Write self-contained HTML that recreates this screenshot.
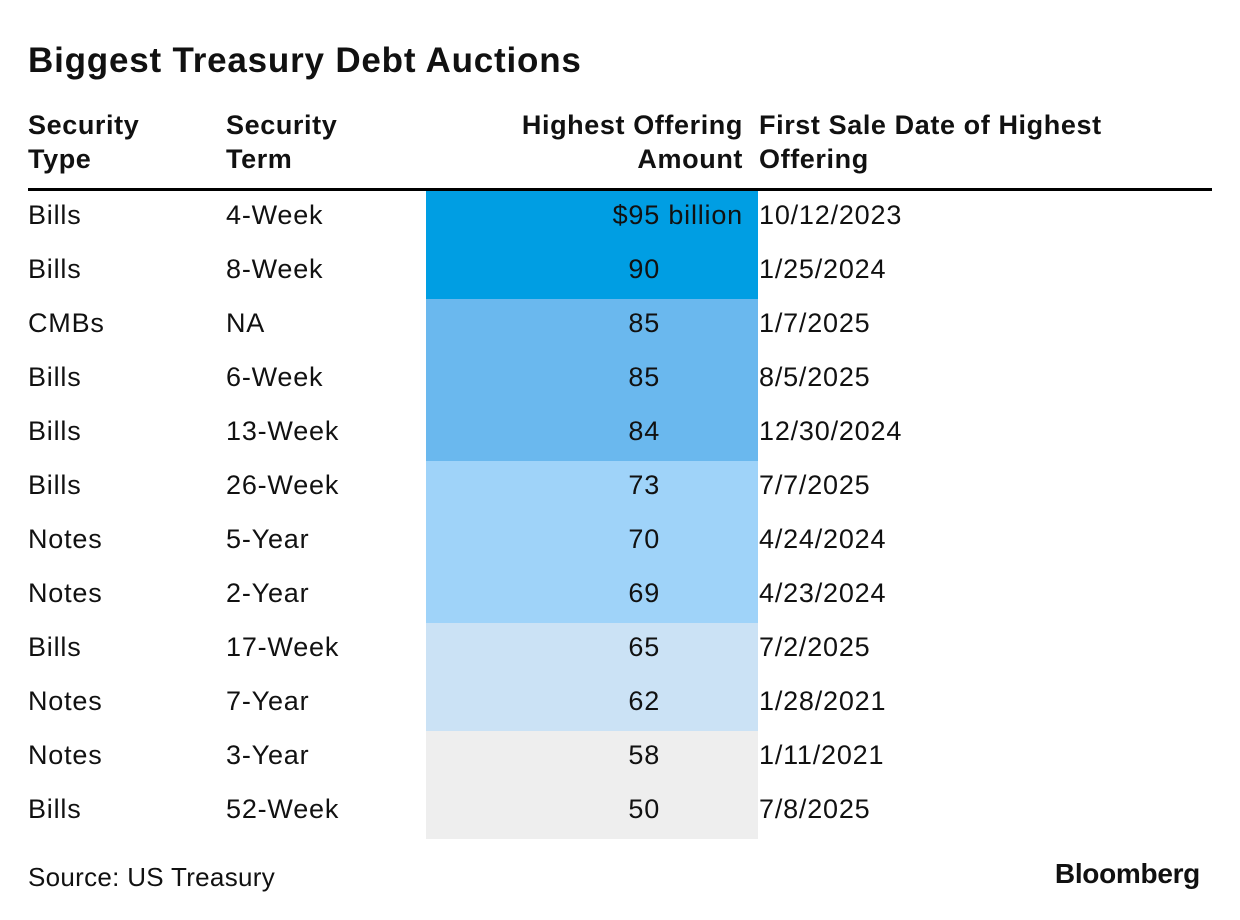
<!DOCTYPE html>
<html><head><meta charset="utf-8">
<style>
body{margin:0;width:1240px;height:920px;background:#fff;font-family:"Liberation Sans",sans-serif;color:#111;position:relative;overflow:hidden}
#title{position:absolute;left:28px;top:41px;font-size:35px;font-weight:bold;letter-spacing:0.8px;margin:0}
.h{position:absolute;top:108px;font-size:27px;font-weight:bold;line-height:34px;letter-spacing:0.6px}
#rule{position:absolute;left:28px;top:188px;width:1184px;height:3px;background:#000}
.cell{position:absolute;font-size:27px;letter-spacing:0.8px;line-height:54px;height:54px;white-space:nowrap}
.band{position:absolute;left:426px;width:332px;height:54px}
#source{position:absolute;left:28px;top:862px;font-size:26px;letter-spacing:0.3px}
#logo{position:absolute;right:40px;top:858px;font-size:28px;font-weight:bold;letter-spacing:-0.3px}
</style></head><body>
<h1 id="title">Biggest Treasury Debt Auctions</h1>
<div class="h" style="left:28px">Security<br>Type</div>
<div class="h" style="left:226px">Security<br>Term</div>
<div class="h" style="right:497px;text-align:right">Highest Offering<br>Amount</div>
<div class="h" style="left:759px">First Sale Date of Highest<br>Offering</div>
<div id="rule"></div>
<div id="rows"></div>
<div id="source">Source: US Treasury</div>
<div id="logo">Bloomberg</div>
<script>
const types=["Bills","Bills","CMBs","Bills","Bills","Bills","Notes","Notes","Bills","Notes","Notes","Bills"];
const terms=["4-Week","8-Week","NA","6-Week","13-Week","26-Week","5-Year","2-Year","17-Week","7-Year","3-Year","52-Week"];
const amounts=[95,90,85,85,84,73,70,69,65,62,58,50];
const dates=["10/12/2023","1/25/2024","1/7/2025","8/5/2025","12/30/2024","7/7/2025","4/24/2024","4/23/2024","7/2/2025","1/28/2021","1/11/2021","7/8/2025"];
function color(v){return v>=90?"#009ee3":v>=80?"#6ab8ee":v>=66?"#9fd3f9":v>=60?"#cbe2f5":"#eeeeee";}
const root=document.getElementById('rows');
const top0=191,rh=54;
amounts.forEach((v,i)=>{
  const y=top0+i*rh;
  const b=document.createElement('div');b.className='band';b.style.top=y+'px';b.style.background=color(v);
  
  
  root.appendChild(b);
  const mk=(txt,style,name)=>{const d=document.createElement('div');d.className='cell';d.style.cssText=style+';top:'+(y-3)+'px';d.innerHTML=txt;
    
    
    root.appendChild(d);};
  mk(types[i],'left:28px','security-type');
  mk(terms[i],'left:226px','security-term');
  mk(i===0?'$'+v+' billion':v+'<span style="visibility:hidden"> billion</span>','right:497px;text-align:right','offering-amount');
  mk(dates[i],'left:759px','first-sale-date');
});
</script>
</body></html>
